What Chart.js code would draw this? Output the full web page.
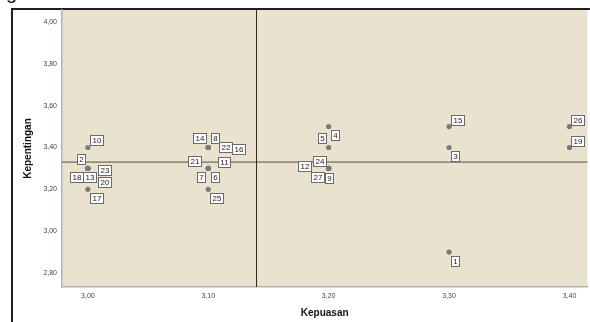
<!DOCTYPE html>
<html>
<head>
<meta charset="utf-8">
<script src="https://cdn.jsdelivr.net/npm/chart.js@4/dist/chart.umd.min.js"></script>
<style>
  html, body { margin: 0; padding: 0; background: #ffffff; }
  #wrap { position: relative; width: 590px; height: 322px; }
</style>
</head>
<body>
<div id="wrap"><canvas id="c" width="590" height="322"></canvas></div>
<script>
// ---- data ----
const caseLabels  = ["1","2","3","4","5","6","7","8","9","10","11","12","13","14","15","16","17","18","19","20","21","22","23","24","25","26","27"];
const kepuasan    = [3.30,3.00,3.30,3.20,3.20,3.10,3.10,3.10,3.20,3.00,3.10,3.20,3.00,3.10,3.30,3.10,3.00,3.00,3.40,3.00,3.10,3.10,3.00,3.20,3.10,3.40,3.20];
const kepentingan = [2.90,3.30,3.40,3.50,3.40,3.30,3.30,3.40,3.30,3.40,3.30,3.30,3.30,3.40,3.50,3.40,3.20,3.30,3.40,3.30,3.30,3.40,3.30,3.30,3.20,3.50,3.30];
const meanKepuasan    = 3.14;
const meanKepentingan = 3.33;
const xTickValues = [3.00, 3.10, 3.20, 3.30, 3.40];
const xTickLabels = ["3,00", "3,10", "3,20", "3,30", "3,40"];
const yTickValues = [2.80, 3.00, 3.20, 3.40, 3.60, 3.80, 4.00];
const yTickLabels = ["2,80", "3,00", "3,20", "3,40", "3,60", "3,80", "4,00"];
const xTitle = "Kepuasan";
const yTitle = "Kepentingan";

// label box placement relative to its point (styling only)
const labelOffsets = [
  [6,8.5],[-7,-9],[6,9],[6.5,8.5],[-6.5,-9],[6.5,8.5],[-7,8.5],[6.5,-9],[0,9.5],[8.5,-7.5],
  [16,-6.5],[-24,-2],[1.5,9],[-8.5,-9],[8,-7],[30.5,1.5],[9,9],[-11,9],[8,-6.5],[16.5,14],
  [-14,-7.5],[17.5,0],[16.5,2],[-9,-7.5],[8.5,8.5],[8,-7],[-11.5,9]
];

const points = kepuasan.map((x, i) => ({ x: x, y: kepentingan[i] }));
const FONT = "'Liberation Sans', Arial, sans-serif";

const framePlugin = {
  id: 'frame',
  beforeDraw(chart) {
    const ctx = chart.ctx, a = chart.chartArea;
    ctx.save();
    ctx.fillStyle = '#ffffff';
    ctx.fillRect(0, 0, chart.width, chart.height);
    // outer frame
    ctx.fillStyle = '#1e1e1e';
    ctx.fillRect(11, 8, chart.width - 11, 2);
    ctx.fillRect(11, 8, 2, chart.height - 8);
    // partial glyph at top-left
    ctx.fillStyle = '#111';
    ctx.font = '20px ' + FONT;
    ctx.textBaseline = 'alphabetic';
    ctx.fillText('g', 6, -1);
    // plot background
    ctx.fillStyle = '#e9e2cf';
    ctx.fillRect(a.left, a.top, a.right - a.left, a.bottom - a.top);
    ctx.restore();
  },
  beforeDatasetsDraw(chart) {
    const ctx = chart.ctx, a = chart.chartArea;
    const xs = chart.scales.x, ys = chart.scales.y;
    ctx.save();
    // horizontal mean line
    const yy = ys.getPixelForValue(meanKepentingan);
    ctx.strokeStyle = '#948c78';
    ctx.lineWidth = 1.6;
    ctx.beginPath(); ctx.moveTo(a.left, yy); ctx.lineTo(a.right, yy); ctx.stroke();
    // vertical mean line
    const xx = Math.round(xs.getPixelForValue(meanKepuasan)) + 0.5;
    ctx.strokeStyle = '#2a2a2a';
    ctx.lineWidth = 1;
    ctx.beginPath(); ctx.moveTo(xx, a.top); ctx.lineTo(xx, a.bottom); ctx.stroke();
    ctx.restore();
  },
  afterDatasetsDraw(chart) {
    const ctx = chart.ctx;
    const xs = chart.scales.x, ys = chart.scales.y;
    ctx.save();
    ctx.font = '8px ' + FONT;
    ctx.textAlign = 'center';
    ctx.textBaseline = 'middle';
    caseLabels.forEach((lab, i) => {
      const px = xs.getPixelForValue(kepuasan[i]);
      const py = ys.getPixelForValue(kepentingan[i]);
      const cx = px + labelOffsets[i][0];
      const cy = py + labelOffsets[i][1];
      const w = Math.round(ctx.measureText(lab).width + 4);
      const h = 10;
      const bx = Math.round(cx - w / 2) + 0.5;
      const by = Math.round(cy - h / 2) + 0.5;
      ctx.fillStyle = '#ffffff';
      ctx.fillRect(bx, by, w, h);
      ctx.strokeStyle = '#6a6a6a';
      ctx.lineWidth = 1;
      ctx.strokeRect(bx, by, w, h);
      ctx.fillStyle = '#222';
      ctx.fillText(lab, bx + w / 2, by + h / 2 + 0.5);
    });
    ctx.restore();
  }
};

new Chart(document.getElementById('c'), {
  type: 'scatter',
  data: {
    datasets: [{
      data: points,
      backgroundColor: '#7a7a7a',
      borderColor: '#7a7a7a',
      pointRadius: 2.6,
      pointHoverRadius: 2.6,
      borderWidth: 0
    }]
  },
  options: {
    responsive: false,
    animation: false,
    events: [],
    layout: { padding: { left: 0, right: 0, top: 10, bottom: 0 } },
    plugins: { legend: { display: false }, tooltip: { enabled: false } },
    scales: {
      x: {
        type: 'linear',
        min: 2.9785,
        max: 3.4149,
        afterFit(s) { s.height = 35; },
        afterBuildTicks(s) { s.ticks = xTickValues.map(v => ({ value: v })); },
        grid: { display: false, drawTicks: false },
        border: { display: true, color: '#b3b3b3', width: 1.5 },
        ticks: {
          padding: 5,
          color: '#444',
          font: { family: FONT, size: 7 },
          maxRotation: 0,
          autoSkip: false,
          callback(v) { const k = xTickValues.findIndex(t => Math.abs(t - v) < 1e-6); return k >= 0 ? xTickLabels[k] : ''; }
        },
        title: {
          display: true, text: xTitle, color: '#111',
          font: { family: FONT, size: 10, weight: 'bold' },
          padding: { top: 0, bottom: 3 }
        }
      },
      y: {
        type: 'linear',
        min: 2.733,
        max: 4.0574,
        afterFit(s) { s.width = 62; },
        afterBuildTicks(s) { s.ticks = yTickValues.map(v => ({ value: v })); },
        grid: { display: false, drawTicks: false },
        border: { display: true, color: '#b3b3b3', width: 1.5 },
        ticks: {
          padding: 5,
          color: '#444',
          font: { family: FONT, size: 7 },
          autoSkip: false,
          callback(v) { const k = yTickValues.findIndex(t => Math.abs(t - v) < 1e-6); return k >= 0 ? yTickLabels[k] : ''; }
        },
        title: {
          display: true, text: yTitle, color: '#111',
          font: { family: FONT, size: 10, weight: 'bold' },
          padding: { top: 22, bottom: 0 }
        }
      }
    }
  },
  plugins: [framePlugin]
});
</script>
</body>
</html>
